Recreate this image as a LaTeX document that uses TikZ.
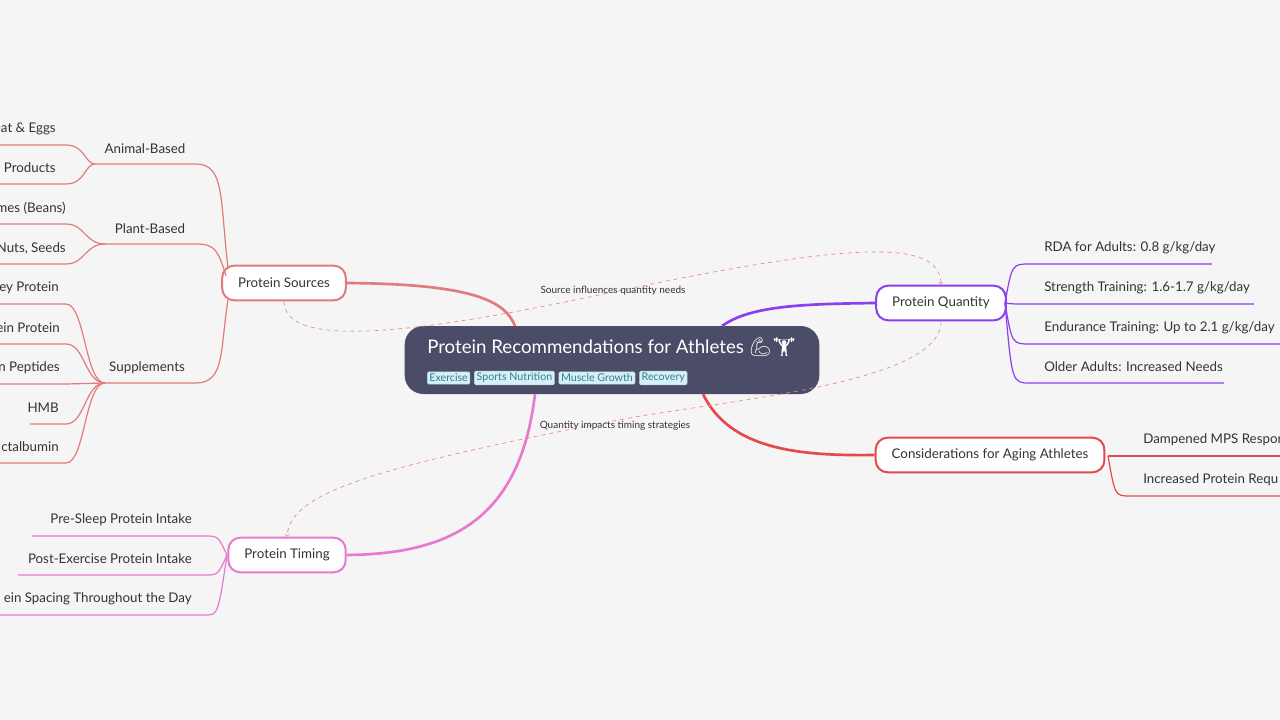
\documentclass[tikz,border=0pt]{standalone}
\usepackage{fontspec}
\setmainfont{Lato}
\newfontfamily\emojifont{Noto Emoji}
\usetikzlibrary{positioning}
\definecolor{bgc}{HTML}{F5F5F5}
\definecolor{rootc}{HTML}{4A4C68}
\definecolor{srcc}{HTML}{E07C7C}
\definecolor{qtyc}{HTML}{8A3FF0}
\definecolor{agec}{HTML}{E5484D}
\definecolor{timc}{HTML}{E879D0}
\definecolor{tagc}{HTML}{D4F1F9}
\definecolor{tagt}{HTML}{3A7A90}
\definecolor{relc}{HTML}{EC8A78}
\definecolor{txtc}{HTML}{333333}

\begin{document}
\begin{tikzpicture}[x=0.75pt,y=-0.75pt,
    topic/.style={draw=#1, line width=1.5pt, fill=white, rounded corners=9pt, minimum height=26pt, inner xsep=12pt, font=\fontsize{10}{12}\selectfont, text=txtc},
    leaf/.style={font=\fontsize{10}{12}\selectfont, text=txtc, inner sep=0pt},
    tagbox/.style={fill=tagc, draw=tagc!70!gray, rounded corners=1pt, inner sep=1.6pt, font=\fontsize{8}{9}\selectfont, text=tagt},
    rel/.style={draw=relc, dashed, line width=0.5pt, ->},
    note/.style={font=\fontsize{7.5}{9}\selectfont, text=txtc}]
    \fill[bgc] (0,0) rectangle (1280,720);
    \useasboundingbox (0,0) rectangle (1280,720);

    % Root
    \node (root) [fill=rootc, rounded corners=14pt, minimum width=311pt, minimum height=51pt] at (612,360) {};
    \node (title) [text=white, font=\fontsize{14}{17}\selectfont, anchor=west, inner sep=0pt] at (427,347) {Protein Recommendations for Athletes {\emojifont 💪🏋}};
    \node (t1) [tagbox, anchor=west] at (427,378) {Exercise};
    \node (t2) [tagbox, right=3pt of t1] {Sports Nutrition};
    \node (t3) [tagbox, right=3pt of t2] {Muscle Growth};
    \node (t4) [tagbox, right=3pt of t3] {Recovery};

    % Topics
    \node (src) [topic=srcc] at (284,283) {Protein Sources};
    \node (qty) [topic=qtyc] at (941,303) {Protein Quantity};
    \node (age) [topic=agec] at (990,455) {Considerations for Aging Athletes};
    \node (tim) [topic=timc] at (287,555) {Protein Timing};

    \draw[srcc, line width=2pt] (src.east) .. controls (470,284) and (505,300) .. (515,326);
    \draw[qtyc, line width=2pt] (722,326) .. controls (750,306) and (800,304) .. (qty.west);
    \draw[agec, line width=2pt] (703,394) .. controls (730,450) and (800,456) .. (age.west);
    \draw[timc, line width=2pt] (535,394) .. controls (520,520) and (450,554) .. (tim.east);

    % Sources
    \node (animal) [leaf] at (145,149) {Animal-Based};
    \node (plant) [leaf] at (150,229) {Plant-Based};
    \node (supp) [leaf] at (147,368) {Supplements};
    \draw[srcc, line width=0.9pt] (228,268) .. controls (220,200) and (225,164) .. (196,164) -- (95,164);
    \draw[srcc, line width=0.9pt] (226,276) .. controls (218,250) and (215,244) .. (196,244) -- (105,244);
    \draw[srcc, line width=0.9pt] (228,300) .. controls (220,350) and (225,383) .. (196,383) -- (105,383);
    \foreach \nm/\txt/\yy/\xr/\pa/\pb/\xs in {
        meat/{eat \& Eggs}/129/56/95/164/0, dairy/{Products}/168/56/95/164/0,
        legume/{mes (Beans)}/208/66/105/244/0, nuts/{Nuts, Seeds}/248/66/105/244/0,
        whey/{ey Protein}/288/59/105/383/0, casein/{ein Protein}/328/60/105/383/0,
        pept/{n Peptides}/368/60/105/383/0, hmb/{HMB}/408/59/105/383/30,
        lact/{ctalbumin}/447/59/105/383/0} {
      \node (\nm) [leaf, anchor=east] at (\xr,\yy) {\txt};
      \draw[srcc, line width=0.9pt] (\pa,\pb) .. controls (85,\pb) and (85,\yy+16) .. (66,\yy+16) -- (\xs,\yy+16);
    }

    % Quantity
    \foreach \nm/\txt/\yy/\xe in {
        rda/{RDA for Adults: 0.8 g/kg/day}/248/1212,
        str/{Strength Training: 1.6-1.7 g/kg/day}/288/1254,
        endu/{Endurance Training: Up to 2.1 g/kg/day}/328/1280,
        old/{Older Adults: Increased Needs}/367/1224} {
      \node (\nm) [leaf, anchor=west] at (1044,\yy) {\txt};
      \draw[qtyc, line width=0.9pt] (1005,303) .. controls (1012,\yy+16) and (1012,\yy+16) .. (1030,\yy+16) -- (\xe,\yy+16);
    }

    % Aging
    \foreach \nm/\txt/\yy in {
        mps/{Dampened MPS Respor}/440,
        req/{Increased Protein Requ}/480} {
      \node (\nm) [leaf, anchor=west] at (1143,\yy) {\txt};
      \draw[agec, line width=0.9pt] (1108,456) .. controls (1115,\yy+16) and (1115,\yy+16) .. (1130,\yy+16) -- (1280,\yy+16);
    }

    % Timing
    \foreach \nm/\txt/\yy/\xs in {
        sleep/{Pre-Sleep Protein Intake}/520/32,
        post/{Post-Exercise Protein Intake}/559/18,
        spac/{ein Spacing Throughout the Day}/599/0} {
      \node (\nm) [leaf, anchor=east] at (192,\yy) {\txt};
      \draw[timc, line width=0.9pt] (227,555) .. controls (218,\yy+16) and (218,\yy+16) .. (205,\yy+16) -- (\xs,\yy+16);
    }

    % Relations
    \draw[rel] (src.south) .. controls (285,345) and (390,340) .. (613,292) .. controls (860,240) and (940,240) .. (qty.north);
    \draw[rel] (qty.south) .. controls (941,385) and (720,400) .. (613,421) .. controls (360,470) and (290,495) .. (tim.north);
    \node (l1) [note] at (613,291) {Source influences quantity needs};
    \node (l2) [note] at (615,426) {Quantity impacts timing strategies};
\end{tikzpicture}
\end{document}
